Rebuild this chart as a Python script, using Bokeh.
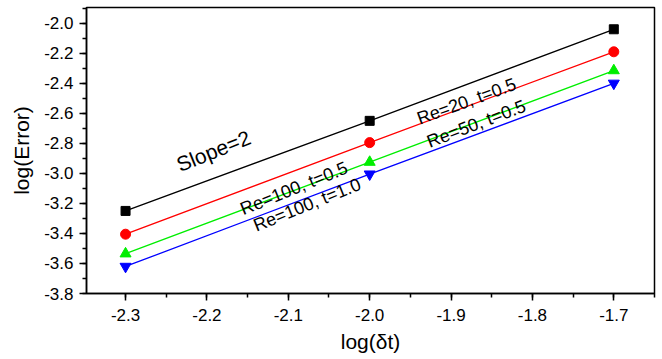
from bokeh.plotting import figure
from bokeh.models import FixedTicker, Range1d
from bokeh.core.properties import value
from bokeh.embed import file_html
from bokeh.resources import INLINE

log_dt = [-2.3, -2.0, -1.7]
err_re20 = [-3.25, -2.65, -2.04]
err_re50 = [-3.405, -2.795, -2.19]
err_re100_t05 = [-3.535, -2.925, -2.315]
err_re100_t10 = [-3.62, -3.005, -2.40]

x_ticks = [-2.3, -2.2, -2.1, -2.0, -1.9, -1.8, -1.7]
y_ticks = [-3.8, -3.6, -3.4, -3.2, -3.0, -2.8, -2.6, -2.4, -2.2, -2.0]

labels = ["Slope=2", "Re=20, t=0.5", "Re=50, t=0.5", "Re=100, t=0.5", "Re=100, t=1.0"]
label_x = [-2.192, -1.881, -1.869, -2.093, -2.077]
label_y = [-2.85, -2.52, -2.67, -3.10, -3.21]
label_angle = [22, 20, 21, 22, 22]

FONT = "Liberation Sans"

p = figure(width=662, height=359, output_backend="svg", toolbar_location=None,
           x_range=Range1d(-2.348, -1.65), y_range=Range1d(-3.8, -1.895),
           min_border_left=86, min_border_right=8, min_border_top=7, min_border_bottom=66)
p.xgrid.visible = False
p.ygrid.visible = False
p.outline_line_color = "black"
p.outline_line_width = 1.5
p.background_fill_color = "white"
p.border_fill_color = "white"

for ax, ticks, minor in ((p.xaxis[0], x_ticks, [-2.35 + 0.05 * i for i in range(15)]),
                         (p.yaxis[0], y_ticks, [-3.8 + 0.1 * i for i in range(20)])):
    ax.ticker = FixedTicker(ticks=ticks, minor_ticks=minor)
    ax.major_label_overrides = {t: f"{t:.1f}" for t in ticks}
    ax.major_label_text_font = FONT
    ax.major_label_text_font_size = "17px"
    ax.major_label_text_color = "black"
    ax.axis_label_text_font = FONT
    ax.axis_label_text_font_size = "21px"
    ax.axis_label_text_font_style = "normal"
    ax.axis_label_text_color = "black"
    ax.axis_line_color = "black"
    ax.axis_line_width = 1.5
    ax.major_tick_line_color = "black"
    ax.minor_tick_line_color = "black"
    ax.major_tick_line_width = 1.5
    ax.minor_tick_line_width = 1.5
    ax.major_tick_out = 7
    ax.major_tick_in = 0
    ax.minor_tick_out = 4
    ax.minor_tick_in = 0

p.xaxis.axis_label = "log(δt)"
p.yaxis.axis_label = "log(Error)"
p.xaxis.major_label_standoff = 8
p.yaxis.major_label_standoff = 6
p.xaxis.axis_label_standoff = 6
p.yaxis.axis_label_standoff = 8

p.line(log_dt, err_re20, line_color="black", line_width=1.3)
p.scatter(log_dt, err_re20, marker="square", size=9, color="black")
p.line(log_dt, err_re50, line_color="red", line_width=1.3)
p.scatter(log_dt, err_re50, marker="circle", size=10, color="red")
p.line(log_dt, err_re100_t05, line_color="#00ee00", line_width=1.3)
p.scatter(log_dt, err_re100_t05, marker="triangle", size=11, color="#00ee00")
p.line(log_dt, err_re100_t10, line_color="blue", line_width=1.3)
p.scatter(log_dt, err_re100_t10, marker="inverted_triangle", size=11, color="blue")

p.text(x=label_x[:1], y=label_y[:1], text=labels[:1], angle=label_angle[:1], angle_units="deg",
       text_font=value(FONT), text_font_size="21px", text_color="black",
       text_align="center", text_baseline="middle")
p.text(x=label_x[1:], y=label_y[1:], text=labels[1:], angle=label_angle[1:], angle_units="deg",
       text_font=value(FONT), text_font_size="18px", text_color="black",
       text_align="center", text_baseline="middle")

open("out.html", "w").write(file_html(p, INLINE))
